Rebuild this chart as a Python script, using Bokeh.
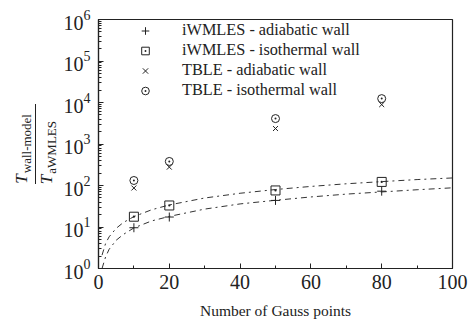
from bokeh.plotting import figure
from bokeh.layouts import row
from bokeh.models import (Legend, LegendItem, SingleIntervalTicker, LogTicker, Range1d, Div)
from bokeh.embed import file_html
from bokeh.resources import INLINE

# ---- data ----
gauss_points = [10, 20, 50, 80]
iwmles_adiabatic = [9.6, 17.4, 43.7, 73]
iwmles_isothermal = [17.7, 33, 76, 122]
tble_adiabatic = [87, 277, 2360, 8900]
tble_isothermal = [132, 380, 4100, 12400]

# fit curves (dash-dot)
fit_x = [1, 2, 3, 5, 7, 10, 15, 20, 30, 40, 50, 60, 70, 80, 90, 100]
fit_isothermal = [2.1, 4.0, 5.8, 9.3, 12.8, 17.8, 26, 34, 50, 65, 80, 95, 110, 124, 139, 152]
fit_adiabatic = [1.0, 1.9, 2.9, 4.8, 6.6, 9.5, 14, 18, 27, 36, 44, 53, 62, 70, 79, 88]

legend_labels = ["iWMLES - adiabatic wall", "iWMLES - isothermal wall",
                 "TBLE - adiabatic wall", "TBLE - isothermal wall"]
x_title = "Number of Gauss points"
y_title_num = ("T", "wall-model")
y_title_den = ("T", "aWMLES")

FONT = "'Liberation Serif', serif"
INK = "#222222"

W, H = 473, 325
TW = 58  # width of the y-title strip

# ---------- main plot ----------
p = figure(width=W - TW, height=H, y_axis_type="log",
           x_range=Range1d(0, 100), y_range=Range1d(1, 1e6),
           output_backend="svg", toolbar_location=None,
           min_border_left=40, min_border_right=21, min_border_top=19, min_border_bottom=57)

p.xgrid.visible = False
p.ygrid.visible = False
p.outline_line_color = INK
p.outline_line_width = 1.2
p.background_fill_color = "white"
p.border_fill_color = "white"

for ax in (p.xaxis[0], p.yaxis[0]):
    ax.axis_line_color = INK
    ax.axis_line_width = 1.2
    ax.major_tick_line_color = INK
    ax.minor_tick_line_color = INK
    ax.major_tick_in = 5
    ax.major_tick_out = 0
    ax.minor_tick_in = 3
    ax.minor_tick_out = 0
    ax.major_label_text_font = FONT
    ax.major_label_text_font_size = "20px"
    ax.major_label_text_color = INK

p.xaxis[0].ticker = SingleIntervalTicker(interval=20, num_minor_ticks=2)
p.xaxis[0].major_label_standoff = 6
p.xaxis[0].axis_label = x_title
p.xaxis[0].axis_label_text_font = FONT
p.xaxis[0].axis_label_text_font_style = "normal"
p.xaxis[0].axis_label_text_font_size = "15.5px"
p.xaxis[0].axis_label_text_color = INK
p.xaxis[0].axis_label_standoff = 10
p.yaxis[0].ticker = LogTicker(num_minor_ticks=10)
p.yaxis[0].major_label_standoff = 8

p.line(fit_x, fit_isothermal, line_dash="dashdot", line_color="#333333", line_width=1)
p.line(fit_x, fit_adiabatic, line_dash="dashdot", line_color="#333333", line_width=1)

r1 = p.scatter(gauss_points, iwmles_adiabatic, marker="cross", size=9,
               line_color=INK, line_width=1)
r2 = p.scatter(gauss_points, iwmles_isothermal, marker="square_dot", size=9,
               line_color=INK, fill_color=None, line_width=1)
r3 = p.scatter(gauss_points, tble_adiabatic, marker="x", size=7,
               line_color=INK, line_width=1)
r4 = p.scatter(gauss_points, tble_isothermal, marker="circle_dot", size=8,
               line_color=INK, fill_color=None, line_width=1)

legend = Legend(items=[LegendItem(label=l, renderers=[r]) for l, r in
                       zip(legend_labels, [r1, r2, r3, r4])],
                location=(33, 164), orientation="vertical",
                label_text_font=FONT, label_text_font_size="16.3px", label_text_color=INK,
                glyph_width=20, glyph_height=19, label_height=19, spacing=0,
                label_standoff=27, padding=4, margin=0,
                background_fill_alpha=0, border_line_alpha=0)
p.add_layout(legend, "center")

# ---------- y-axis title: T_wall-model / T_aWMLES, set sideways (bottom to top) ----------
def part(main, sub):
    return (f'<span style="font-style:italic;font-size:17px;">{main}</span>'
            f'<span style="font-size:13px;vertical-align:-4px;margin-inline-start:1px;">{sub}</span>')

frac_html = (
    f'<div style="position:relative;width:{TW}px;height:{H}px;">'
    f'<div style="position:absolute;left:13px;top:104px;height:80px;'
    f'writing-mode:vertical-rl;writing-mode:sideways-lr;'
    f"font-family:{FONT};color:{INK};white-space:nowrap;line-height:1;text-align:start;\">"
    f'<div style="padding-block-end:2px;border-block-end:1px solid {INK};">{part(*y_title_num)}</div>'
    f'<div style="padding-block-start:2px;">{part(*y_title_den)}</div>'
    f'</div></div>'
)
ytitle = Div(text=frac_html, width=TW, height=H, margin=0)

layout = row(ytitle, p, spacing=0)
open("out.html", "w").write(file_html(layout, INLINE))
